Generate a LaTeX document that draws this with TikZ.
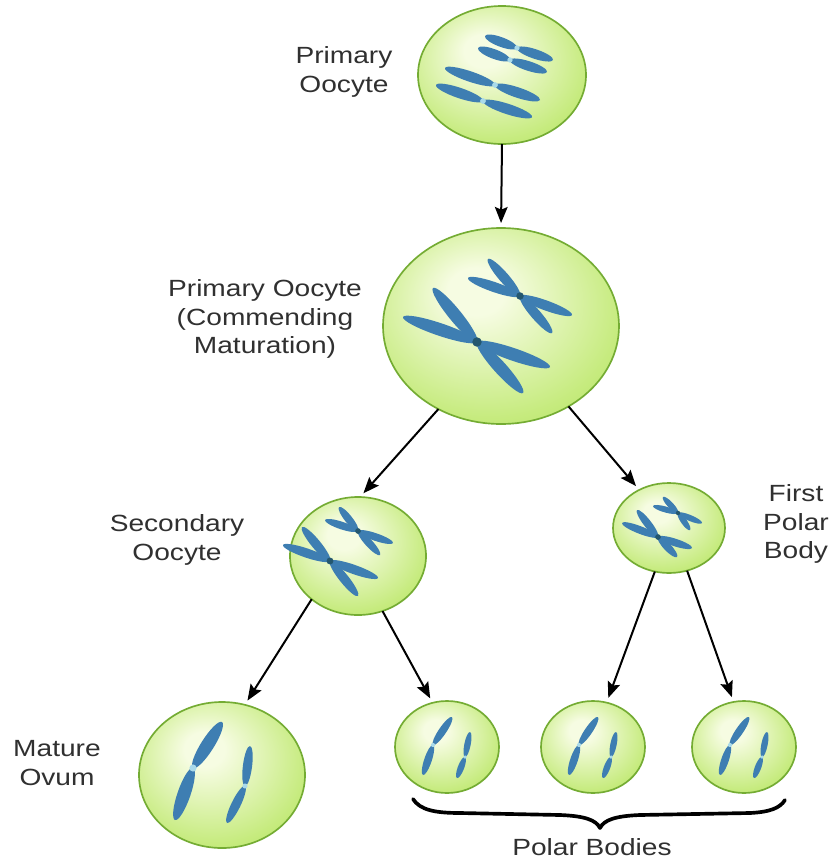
\documentclass[tikz,border=0pt]{standalone}
\usepackage{fontspec}
\setmainfont[FakeStretch=1.2]{Liberation Sans}
\usetikzlibrary{arrows.meta,shapes.geometric}

\definecolor{cellhi}{HTML}{F6FCE2}
\definecolor{cellmid}{HTML}{C6EB7E}
\definecolor{cellout}{HTML}{99D43F}
\definecolor{cellrim}{HTML}{74AC33}
\definecolor{chromo}{HTML}{3E7EB2}
\definecolor{centro}{HTML}{24576F}
\definecolor{gapblue}{HTML}{A9DAEA}
\definecolor{labeltext}{HTML}{303030}

% soft highlight placed up and to the left of the cell centre
\pgfdeclareradialshading{cellshade}{\pgfpoint{-6bp}{10bp}}{%
  color(0bp)=(cellhi); color(6bp)=(cellhi); color(28bp)=(cellmid); color(50bp)=(cellout)}

% one chromosome arm: a slim ellipse from (x1,y1) to (x2,y2), half width #5
\newcommand\armseg[5]{%
  \pgfmathsetmacro\armAx{#1}\pgfmathsetmacro\armAy{#2}%
  \pgfmathsetmacro\armBx{#3}\pgfmathsetmacro\armBy{#4}%
  \pgfmathsetmacro\armMx{(\armAx+\armBx)/2}%
  \pgfmathsetmacro\armMy{(\armAy+\armBy)/2}%
  \pgfmathsetmacro\armL{veclen(\armBx-\armAx,\armBy-\armAy)/2}%
  \pgfmathsetmacro\armA{atan2(\armAy-\armBy,\armBx-\armAx)}%
  \fill[chromo, rotate around={\armA:(\armMx,\armMy)}] (\armMx,\armMy) ellipse ({\armL} and {#5});}

% single chromatid: end, pale centromere, end
\newcommand\chromatid[7]{%
  \armseg{#1}{#2}{#3}{#4}{#7}\armseg{#3}{#4}{#5}{#6}{#7}%
  \fill[gapblue] (#3,#4) circle [radius=#7*0.55];}

% X-shaped chromosome: centre, half width, list of arm tips
\newcommand\xchrom[4]{%
  \foreach \tx/\ty in {#4}{\armseg{#1}{#2}{\tx}{\ty}{#3}}%
  \fill[centro] (#1,#2) circle [radius=#3*0.75];}

\tikzset{
  cell/.style 2 args={ellipse, draw=cellrim, line width=0.05cm, shading=cellshade,
    inner sep=0pt, outer sep=0pt, minimum width=#1*0.06cm, minimum height=#2*0.06cm},
  lbl/.style={font=\fontsize{20pt}{24.5pt}\selectfont, text=labeltext, align=center, inner sep=0pt},
  arr/.style={draw=black, line width=0.06cm, shorten >=0.15cm,
    -{Stealth[length=0.48cm, width=0.38cm, inset=0.08cm]}},
  bracestroke/.style={draw=black, line width=0.11cm, line cap=round, line join=round}
}

\begin{document}
\begin{tikzpicture}[x=0.03cm, y=-0.03cm]
\useasboundingbox[fill=white] (0,0) rectangle (834,862);

% cells
\node[cell={84}{69}]  (po)  at (502,75)  {};
\node[cell={118}{98}] (pc)  at (501,326) {};
\node[cell={68}{59}]  (so)  at (358,556) {};
\node[cell={56}{45}]  (fp)  at (669,528) {};
\node[cell={83}{73}]  (mo)  at (222,775) {};
\node[cell={52}{46}]  (pb1) at (447,747) {};
\node[cell={52}{46}]  (pb2) at (593,747) {};
\node[cell={52}{46}]  (pb3) at (744,747) {};

% connectors
\draw[arr] (po.south) -- (pc.north);
\draw[arr] (pc.233) -- (so.88);
\draw[arr] (pc.310) -- (fp.128);
\draw[arr] (so.223) -- (mo.72);
\draw[arr] (so.294) -- (pb1.108);
\draw[arr] (fp.252) -- (pb2.73);
\draw[arr] (fp.293) -- (pb3.103);

% chromosomes of the primary oocyte
\chromatid{485}{36}{517}{48}{553}{60}{4.8}
\chromatid{478}{48}{510}{60}{547}{72}{4.8}
\chromatid{445}{68}{495}{85}{540}{100}{5.2}
\chromatid{436}{85}{483}{101}{532}{117}{5.2}

% primary oocyte at maturation
\xchrom{477}{342}{6.3}{403/317, 433/288, 550/367, 523/393}
\xchrom{520}{296}{5}{468/278, 488/259, 572/315, 552/333}

% secondary oocyte
\xchrom{330}{561}{4.6}{283/545, 302/527, 378/578, 358/596}
\xchrom{358}{531}{3.8}{325/520, 339/507, 393/543, 380/555}

% first polar body
\xchrom{658}{537}{3.8}{622/523, 637/510, 692/548, 677/557}
\xchrom{678}{513}{3}{653/506, 663/497, 702/523, 690/530}

% mature ovum
\chromatid{222}{722}{193}{768}{175}{820}{6.5}
\chromatid{250}{746}{245}{786}{227}{823}{4.6}

% polar bodies
\foreach \cx in {447,593,744}{
  \chromatid{\cx+5}{717}{\cx-14}{745}{\cx-24}{775}{3.8}
  \chromatid{\cx+23}{732}{\cx+18}{757}{\cx+10}{778}{3.2}
}

% brace under the polar bodies
\coordinate (braceL) at (413,799);
\coordinate (braceTip) at (600,828);
\coordinate (braceR) at (785,800);
\draw[bracestroke] (braceL) .. controls (420,810) and (435,813) .. (460,813)
  -- (560,815) .. controls (585,816) and (596,820) .. (braceTip)
  .. controls (604,820) and (615,816) .. (640,815)
  -- (750,813) .. controls (770,812) and (780,808) .. (braceR);

% labels
\node[lbl] (lpo) at (344,72)  {Primary\\Oocyte};
\node[lbl] (lpc) at (265,319) {Primary Oocyte\\(Commending\\Maturation)};
\node[lbl] (lso) at (177,540) {Secondary\\Oocyte};
\node[lbl] (lfp) at (796,524) {First\\Polar\\Body};
\node[lbl] (lmo) at (57,763)  {Mature\\Ovum};
\node[lbl] (lpb) at (592,847) {Polar Bodies};
\end{tikzpicture}
\end{document}
